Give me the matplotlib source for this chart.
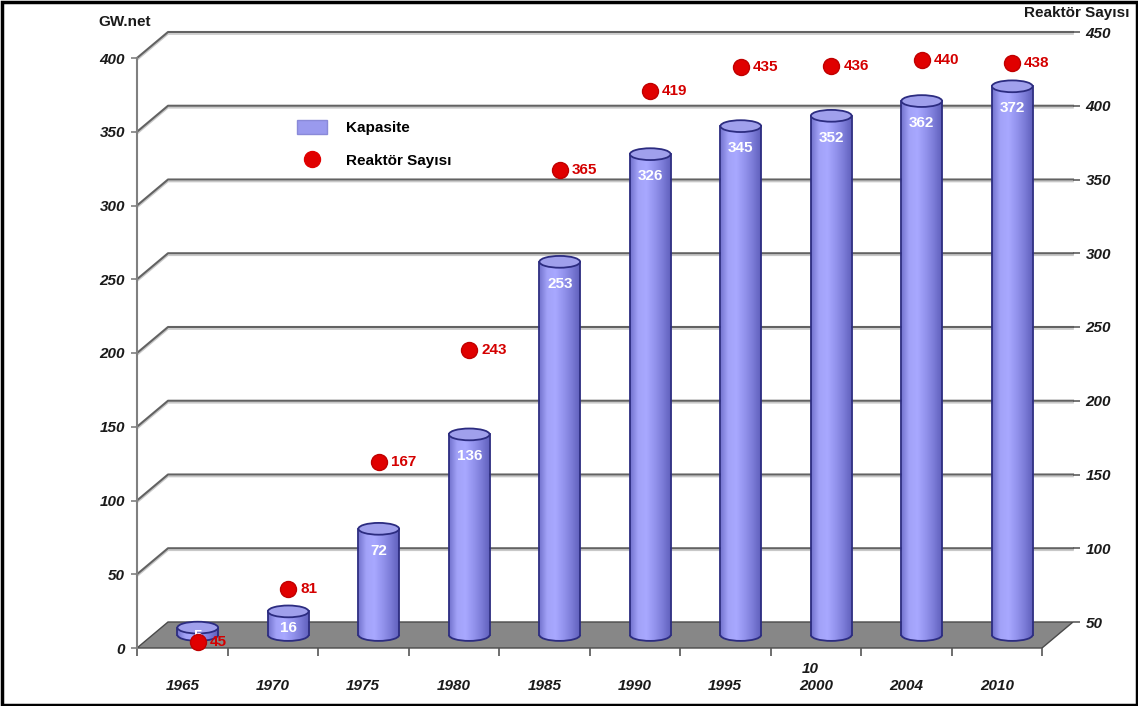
import numpy as np
import matplotlib
matplotlib.use("Agg")
import matplotlib.pyplot as plt
from matplotlib.patches import Rectangle, Ellipse, Polygon, Patch, PathPatch, Arc
from matplotlib.lines import Line2D
from matplotlib.path import Path
from matplotlib.colors import LinearSegmentedColormap
from matplotlib.transforms import ScaledTranslation, IdentityTransform, Affine2D

years = ["1965", "1970", "1975", "1980", "1985", "1990", "1995", "2000", "2004", "2010"]
capacity = [5, 16, 72, 136, 253, 326, 345, 352, 362, 372]       # GW.net
reactors = [45, 81, 167, 243, 365, 419, 435, 436, 440, 438]     # reaktör sayısı
gw_ticks = list(range(0, 401, 50))
reactor_ticks = list(range(50, 451, 50))

plt.rcParams["font.family"] = ["Liberation Sans", "DejaVu Sans"]
TXT = "#1a1a1a"
FS = 11

W, H = 1138, 706
fig = plt.figure(figsize=(W / 100, H / 100), dpi=100)
fig.patch.set_facecolor("white")

# front plane axes (GW) and back plane axes (reactor count)
DX, DY = 31, 26  # depth of the fake 3D box, pixels
ax = fig.add_axes([137 / W, 58 / H, 905 / W, 590 / H])
axr = fig.add_axes([(137 + DX) / W, (58 + DY) / H, 905 / W, 590 / H])
axr.patch.set_visible(False)
ax.patch.set_visible(False)


def plane(axis, depth):
    # data transform pushed "depth" of the way into the box
    return axis.transData + ScaledTranslation(depth * DX / 100, depth * DY / 100,
                                              fig.dpi_scale_trans)


def px(trans, pts):
    return trans.transform(np.asarray(pts, dtype=float))


def setup_limits():
    ax.set_xlim(-0.5, 9.5)
    ax.set_ylim(0, 400)
    axr.set_xlim(-0.5, 9.5)
    axr.set_ylim(50, 450)


setup_limits()
front = plane(ax, 0)
back = plane(ax, 1)
mid = plane(ax, 0.5)

# floor
floor_pts = np.vstack([px(front, [(-0.5, 0), (9.5, 0)]), px(back, [(9.5, 0), (-0.5, 0)])])
ax.add_patch(Polygon(floor_pts, closed=True, transform=IdentityTransform(),
                     fc="#878787", ec="#4a4a4a", lw=1.0, zorder=1, clip_on=False))

# grid lines on the back wall with the diagonal on the side wall
for g in gw_ticks[1:]:
    pts = np.vstack([px(front, [(-0.5, g)]), px(back, [(-0.5, g), (9.5, g)])])
    ax.add_line(Line2D(pts[:, 0], pts[:, 1] - 2, transform=IdentityTransform(),
                       color="#c8c8c8", lw=1.2, zorder=0.5, clip_on=False))
    ax.add_line(Line2D(pts[:, 0], pts[:, 1], transform=IdentityTransform(),
                       color="#626262", lw=1.5, zorder=0.6, clip_on=False))

# cylinders
cyl_cmap = LinearSegmentedColormap.from_list(
    "cyl", ["#7272cc", "#a2a2f8", "#a8a8ff", "#9494ee", "#7c7cd8", "#6060bc"])
grad = np.linspace(0, 1, 128)[None, :]
bw = 0.45
eh = 8.0
for i, v in enumerate(capacity):
    x0 = i - bw / 2
    rect = Path.unit_rectangle().transformed(Affine2D().scale(bw, v).translate(x0, 0))
    ell = Path.unit_circle().transformed(Affine2D().scale(bw / 2, eh / 2).translate(i, 0))
    body = PathPatch(Path.make_compound_path(rect, ell), transform=mid,
                     fc="none", ec="none", zorder=3)
    ax.add_patch(body)
    im = ax.imshow(grad, extent=[x0, x0 + bw, -eh, v], transform=mid, cmap=cyl_cmap,
                   aspect="auto", interpolation="bilinear", zorder=3)
    im.set_clip_path(body)
    ax.plot([x0, x0], [0, v], color="#2c2c80", lw=1.3, transform=mid, zorder=4)
    ax.plot([x0 + bw, x0 + bw], [0, v], color="#2c2c80", lw=1.3, transform=mid, zorder=4)
    ax.add_patch(Arc((i, 0), bw, eh, theta1=180, theta2=360, transform=mid,
                     color="#2c2c80", lw=1.3, zorder=4))
    ax.add_patch(Ellipse((i, v), bw, eh, transform=mid, fc="#a0a0ec",
                         ec="#2c2c80", lw=1.3, zorder=4))
    if v < 20:
        ax.annotate(str(v), (i, v / 2), xycoords=mid, xytext=(0, -5),
                    textcoords="offset pixels", ha="center", va="center",
                    color="white", fontweight="bold", fontsize=FS, zorder=6)
    else:
        ax.annotate(str(v), (i, v), xycoords=mid, xytext=(0, -22),
                    textcoords="offset pixels", ha="center", va="center",
                    color="white", fontweight="bold", fontsize=FS, zorder=6)

# reactor count markers
dots = plane(axr, -0.5)
axr.plot(range(len(reactors)), reactors, ls="none", marker="o", ms=11.5,
         color="#e00000", mec="#c00000", transform=dots, clip_on=False, zorder=5)
for i, r in enumerate(reactors):
    axr.annotate(str(r), (i, r), xycoords=dots, xytext=(12, 0),
                 textcoords="offset pixels", ha="left", va="center",
                 color="#d40000", fontweight="bold", fontsize=FS)

# left axis
for s in ["top", "right", "bottom"]:
    ax.spines[s].set_visible(False)
ax.spines["left"].set_color("#808080")
ax.spines["left"].set_linewidth(1.5)
ax.set_yticks(gw_ticks)
ax.tick_params(axis="y", direction="out", length=4.5, width=1.2, color="#808080",
               pad=4, labelsize=FS, labelcolor=TXT)
for lab in ax.get_yticklabels():
    lab.set_fontweight("bold")
    lab.set_fontstyle("italic")

# category axis along the front edge of the floor
ax.set_xticks(range(len(years)))
ax.set_xticklabels(years, fontweight="bold", fontstyle="italic")
ax.set_xticks(np.arange(-0.5, 10, 1), minor=True)
ax.tick_params(axis="x", which="major", length=0, pad=22, labelsize=FS, labelcolor=TXT)
ax.tick_params(axis="x", which="minor", direction="out", length=6, width=1.2,
               color="#555555")
ax.annotate("10", (7, 0), xycoords="data", xytext=(-6, -21), textcoords="offset pixels",
            ha="center", va="center", fontweight="bold", fontstyle="italic",
            fontsize=FS, color=TXT, annotation_clip=False)

# right axis on the back wall
for s in ["top", "left", "bottom", "right"]:
    axr.spines[s].set_visible(False)
axr.set_xticks([])
axr.yaxis.tick_right()
axr.set_yticks(reactor_ticks)
axr.tick_params(axis="y", direction="out", length=5, width=1.2, color="#5e5e5e",
                pad=4, labelsize=FS, labelcolor=TXT)
for lab in axr.get_yticklabels():
    lab.set_fontweight("bold")
    lab.set_fontstyle("italic")

fig.text(125 / W, 1 - 22 / H, "GW.net", ha="center", va="center",
         fontweight="bold", fontsize=FS, color=TXT)
fig.text(1130 / W, 1 - 13 / H, "Reaktör Sayısı", ha="right", va="center",
         fontweight="bold", fontsize=FS, color=TXT)

handles = [Patch(fc="#9a9aee", ec="#8a8ad8"),
           Line2D([], [], ls="none", marker="o", ms=11.5, color="#e00000")]
axr.legend(handles, ["Kapasite", "Reaktör Sayısı"], loc="upper left",
           bbox_to_anchor=(289 / W, 1 - 112 / H), bbox_transform=fig.transFigure,
           frameon=False, borderpad=0, handlelength=2.0, handleheight=1.1,
           handletextpad=1.2, labelspacing=1.15,
           prop={"weight": "bold", "size": FS})

setup_limits()

# outer frame
fig.add_artist(Rectangle((1.5 / W, 1.5 / H), 1 - 3 / W, 1 - 3 / H,
                         transform=fig.transFigure, fill=False, ec="black", lw=2.5))

fig.savefig("out.png", dpi=100)
